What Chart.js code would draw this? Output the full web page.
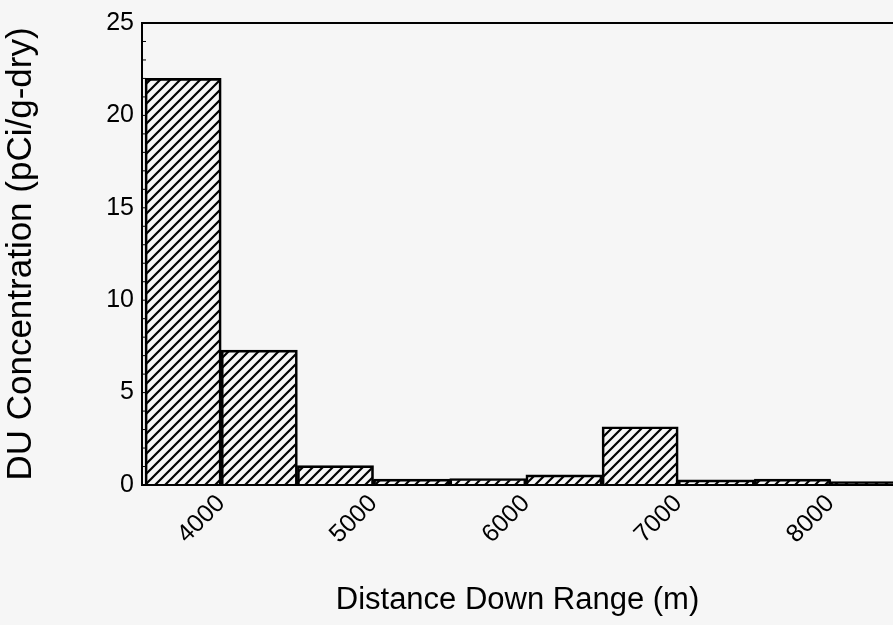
<!DOCTYPE html>
<html>
<head>
<meta charset="utf-8">
<script src="https://cdn.jsdelivr.net/npm/chart.js@4/dist/chart.umd.min.js"></script>
<style>
  html, body { margin: 0; padding: 0; background: #f6f6f6; overflow: hidden; }
  #wrap { width: 893px; height: 625px; position: relative; }
</style>
</head>
<body>
<div id="wrap"><canvas id="chart"></canvas></div>
<script>
// bin centres (m) and DU concentration per bin
const binCenters = [3750, 4250, 4750, 5250, 5750, 6250, 6750, 7250, 7750, 8250];
const concentration = [22.0, 7.3, 1.05, 0.32, 0.35, 0.55, 3.15, 0.28, 0.32, 0.18];
const xTicks = [4000, 5000, 6000, 7000, 8000];
const yTicks = [0, 5, 10, 15, 20, 25];

const FONT = "'Liberation Sans', Arial, Helvetica, sans-serif";

// diagonal hatch pattern "/"
function makeHatch() {
  const s = 10;
  const c = document.createElement("canvas");
  c.width = s; c.height = s;
  const g = c.getContext("2d");
  g.strokeStyle = "#000";
  g.lineWidth = 2.2;
  g.beginPath();
  g.moveTo(-1, s + 1); g.lineTo(s + 1, -1);
  g.moveTo(-1, 1); g.lineTo(1, -1);
  g.moveTo(s - 1, s + 1); g.lineTo(s + 1, s - 1);
  g.stroke();
  return g.createPattern(c, "repeat");
}

// top frame line + small inward ticks
const frame = {
  id: "frame",
  afterDatasetsDraw(chart) {
    const { ctx, chartArea, scales } = chart;
    ctx.save();
    ctx.strokeStyle = "#000";
    ctx.lineWidth = 2;
    ctx.beginPath();
    ctx.moveTo(chartArea.left, chartArea.top);
    ctx.lineTo(chartArea.right, chartArea.top);
    ctx.stroke();
    ctx.lineWidth = 1;
    ctx.beginPath();
    for (let v = 1; v < 25; v++) {
      const y = scales.y.getPixelForValue(v);
      ctx.moveTo(chartArea.left, y);
      ctx.lineTo(chartArea.left + 4, y);
    }
    for (let v = 4000; v <= 8000; v += 500) {
      const x = scales.x.getPixelForValue(v);
      ctx.moveTo(x, chartArea.bottom);
      ctx.lineTo(x, chartArea.bottom - 5);
    }
    ctx.stroke();
    ctx.restore();
  }
};

new Chart(document.getElementById("chart"), {
  type: "bar",
  data: {
    datasets: [{
      data: binCenters.map((x, i) => ({ x: x, y: concentration[i] })),
      backgroundColor: makeHatch(),
      borderColor: "#000",
      borderWidth: 2,
      barPercentage: 1,
      categoryPercentage: 1
    }]
  },
  options: {
    responsive: true,
    maintainAspectRatio: false,
    animation: false,
    layout: { padding: { top: 23, right: 0, left: 0, bottom: 0 } },
    plugins: { legend: { display: false }, tooltip: { enabled: false } },
    scales: {
      x: {
        type: "linear",
        offset: false,
        min: 3480,
        max: 8410,
        afterBuildTicks(scale) { scale.ticks = xTicks.map(v => ({ value: v })); },
        afterFit(scale) { scale.height = 140; },
        grid: { display: false, drawTicks: false, offset: false },
        border: { color: "#000", width: 2 },
        ticks: {
          color: "#000",
          font: { family: FONT, size: 25 },
          minRotation: 45,
          maxRotation: 45,
          padding: 4,
          callback: v => String(v)
        },
        title: {
          display: true,
          text: "Distance Down Range (m)",
          color: "#000",
          font: { family: FONT, size: 31 },
          padding: { top: 0, bottom: 6 }
        }
      },
      y: {
        min: 0,
        max: 25,
        afterBuildTicks(scale) { scale.ticks = yTicks.map(v => ({ value: v })); },
        afterFit(scale) { scale.width = 142; },
        grid: { display: false, drawTicks: false },
        border: { color: "#000", width: 2 },
        ticks: {
          color: "#000",
          font: { family: FONT, size: 25 },
          padding: 8
        },
        title: {
          display: true,
          text: "DU Concentration (pCi/g-dry)",
          color: "#000",
          font: { family: FONT, size: 35 },
          padding: { top: 0, bottom: 0 }
        }
      }
    }
  },
  plugins: [frame]
});
</script>
</body>
</html>
